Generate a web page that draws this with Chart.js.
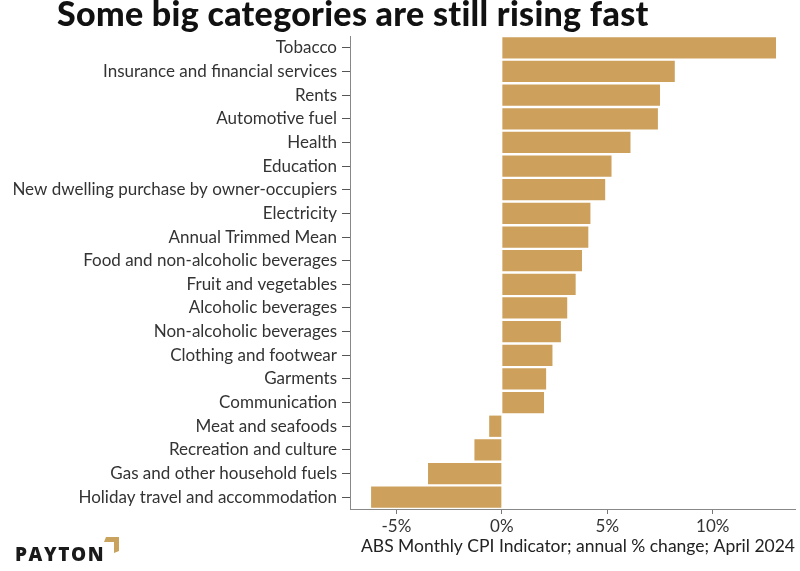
<!DOCTYPE html>
<html><head><meta charset="utf-8">
<script src="https://cdn.jsdelivr.net/npm/chart.js@4/dist/chart.umd.min.js"></script>
<style>
html,body{margin:0;padding:0;background:#fff;}
#wrap{position:relative;width:800px;height:571px;}
#title{position:absolute;left:57px;top:-4px;line-height:34px;font-family:Lato,"Open Sans",sans-serif;font-weight:900;font-size:34px;color:#111;white-space:nowrap;letter-spacing:0.3px;}
#logo{position:absolute;left:15px;top:543px;line-height:22px;font-family:"Open Sans",Lato,sans-serif;font-weight:800;font-size:19px;color:#1a1a1a;letter-spacing:1.6px;}
#mark{position:absolute;left:104px;top:537px;width:15px;height:16px;}
</style></head>
<body><div id="wrap"><canvas id="c" width="800" height="571"></canvas>
<div id="title">Some big categories are still rising fast</div>
<div id="logo">PAYTON</div>
<svg id="mark" viewBox="0 0 15 16"><polygon points="2,0 15,0 15,14 10,16 10,5 0,5" fill="#c9a25e"/></svg>
</div>
<script>
const categories = ["Tobacco","Insurance and financial services","Rents","Automotive fuel","Health","Education","New dwelling purchase by owner-occupiers","Electricity","Annual Trimmed Mean","Food and non-alcoholic beverages","Fruit and vegetables","Alcoholic beverages","Non-alcoholic beverages","Clothing and footwear","Garments","Communication","Meat and seafoods","Recreation and culture","Gas and other household fuels","Holiday travel and accommodation"];
const annualChange = [13.0,8.2,7.5,7.4,6.1,5.2,4.9,4.2,4.1,3.8,3.5,3.1,2.8,2.4,2.1,2.0,-0.6,-1.3,-3.5,-6.2];
const tickValues = [-5,0,5,10];
const axisTitle = "ABS Monthly CPI Indicator; annual % change; April 2024";
const fam = 'Lato, "Open Sans", sans-serif';

new Chart(document.getElementById('c'), {
  type: 'bar',
  data: { labels: categories, datasets: [{ data: annualChange, backgroundColor: '#cda15c', barPercentage: 0.9, categoryPercentage: 1.0 }] },
  options: {
    indexAxis: 'y', responsive: false, animation: false,
    layout: { padding: { top: 36, right: 5, left: 0, bottom: 14 } },
    plugins: { legend: { display: false }, tooltip: { enabled: false } },
    scales: {
      x: {
        min: -7.2, max: 13.9,
        afterBuildTicks: s => { s.ticks = tickValues.map(v => ({ value: v })); },
        afterFit: s => { s.height = 48; },
        grid: { display: true, drawOnChartArea: false, drawTicks: true, tickLength: 5, color: '#777' },
        border: { display: true, color: '#888', width: 1 },
        ticks: { color: '#333', font: { family: fam, size: 17 }, padding: 2, callback: v => v + '%' },
        title: { display: true, text: axisTitle, align: 'end', color: '#222', font: { family: fam, size: 17.5 }, padding: { top: 0, bottom: 0 } }
      },
      y: {
        afterFit: s => { s.width = 350; },
        grid: { display: true, offset: false, drawOnChartArea: false, drawTicks: true, tickLength: 8, color: '#555' },
        border: { display: true, color: '#888', width: 1 },
        ticks: { color: '#333', font: { family: fam, size: 17 }, padding: 5, autoSkip: false }
      }
    }
  }
});
</script></body></html>
